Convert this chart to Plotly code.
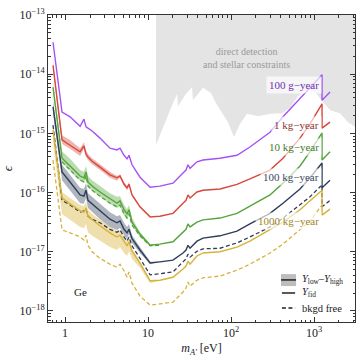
import plotly.graph_objects as go

FONT = "Liberation Serif"

# ── data ─────────────────────────────────────────────────────
# dark photon mass grid [eV], shared by all curves
mass = [0.717, 0.92, 1.15, 1.52, 1.69, 1.79, 1.89, 2.12, 2.64, 3.48, 4.23, 4.60,
        5.14, 5.59, 5.90, 6.42, 8.01, 10.6, 13.9, 20.0, 26.4, 28.7, 30.3, 32.1,
        38.9, 46.0, 73.7, 118, 169, 295, 423, 678, 895, 1250, 1250, 1560]

# log10(epsilon), Y_fid curves
log_eps_100g = [-13.46, -14.64, -14.72, -14.88, -14.76, -14.89, -14.91, -14.96, -15.08,
                -15.25, -15.28, -15.25, -15.37, -15.43, -15.37, -15.53, -15.74, -15.91,
                -15.89, -15.84, -15.67, -15.62, -15.53, -15.59, -15.48, -15.45, -15.42,
                -15.37, -15.23, -14.98, -14.72, -14.40, -14.23, -14.01, -14.44, -14.30]
log_eps_1kg = [-13.85, -15.11, -15.20, -15.31, -15.21, -15.35, -15.40, -15.47, -15.57,
               -15.70, -15.75, -15.72, -15.86, -15.92, -15.86, -16.04, -16.24, -16.41,
               -16.40, -16.35, -16.18, -16.13, -16.04, -16.09, -15.99, -15.96, -15.94,
               -15.86, -15.77, -15.62, -15.42, -15.08, -14.84, -14.50, -14.91, -14.81]
log_eps_10kg = [-14.22, -15.42, -15.55, -15.72, -15.75, -15.65, -15.82, -15.89, -15.99,
                -16.11, -16.18, -16.14, -16.29, -16.36, -16.29, -16.50, -16.70, -16.89,
                -16.87, -16.83, -16.67, -16.62, -16.53, -16.58, -16.50, -16.46, -16.43,
                -16.35, -16.23, -16.04, -15.84, -15.55, -15.31, -14.99, -15.45, -15.31]
log_eps_100kg = [-14.55, -15.65, -15.82, -16.04, -16.06, -15.96, -16.13, -16.19, -16.31,
                 -16.45, -16.51, -16.48, -16.62, -16.68, -16.62, -16.78, -16.97, -17.19,
                 -17.17, -17.14, -17.02, -16.97, -16.89, -16.94, -16.82, -16.77, -16.73,
                 -16.65, -16.53, -16.35, -16.18, -15.94, -15.75, -15.50, -15.92, -15.79]
log_eps_1000kg = [-14.94, -16.09, -16.19, -16.31, -16.33, -16.26, -16.40, -16.46, -16.56,
                  -16.68, -16.75, -16.72, -16.83, -16.90, -16.83, -16.99, -17.19, -17.49,
                  -17.48, -17.43, -17.29, -17.24, -17.16, -17.21, -17.07, -17.02, -17.00,
                  -16.92, -16.82, -16.63, -16.50, -16.29, -16.14, -15.96, -16.38, -16.28]

# background-free curves
log_free_10kg = [-15.48, -15.62, -15.79, -15.82, -15.72, -15.89, -15.96, -16.06, -16.18,
                 -16.24, -16.21, -16.36, -16.43, -16.36, -16.55, -16.73, -16.90, -16.89]
log_free_100kg = [-14.86, -16.13, -16.21, -16.33, -16.31, -16.28, -16.40, -16.45, -16.51,
                  -16.62, -16.67, -16.63, -16.75, -16.82, -16.75, -16.90, -17.11, -17.39,
                  -17.37, -17.34, -17.17, -17.12, -17.04, -17.09, -16.99, -16.95, -16.94,
                  -16.85, -16.75, -16.58, -16.43, -16.21, -16.07, -15.87, -16.24, -16.13]
log_free_1000kg = [-15.45, -16.63, -16.68, -16.75, -16.80, -16.72, -16.89, -17.00, -17.11,
                   -17.21, -17.26, -17.21, -17.32, -17.43, -17.34, -17.53, -17.75, -17.90,
                   -17.88, -17.85, -17.68, -17.61, -17.51, -17.58, -17.48, -17.44, -17.41,
                   -17.31, -17.21, -17.02, -16.87, -16.63, -16.48, -16.21]

# Y_low - Y_high bands (first part of the mass grid)
band_1kg_hi = [-13.78, -15.03, -15.11, -15.25, -15.15, -15.28, -15.35, -15.42, -15.52, -15.65,
               -15.72, -15.69, -15.82, -15.89, -15.82, -16.02, -16.23, -16.41, -16.40]
band_1kg_lo = [-13.90, -15.18, -15.26, -15.38, -15.26, -15.40, -15.45, -15.52, -15.62, -15.75,
               -15.80, -15.75, -15.89, -15.96, -15.89, -16.06, -16.26, -16.43, -16.40]
band_10kg_hi = [-14.13, -15.30, -15.43, -15.62, -15.65, -15.55, -15.72, -15.79, -15.89, -16.01,
                -16.07, -16.06, -16.21, -16.28, -16.21, -16.43, -16.67, -16.87, -16.87]
band_10kg_lo = [-14.28, -15.50, -15.64, -15.80, -15.84, -15.74, -15.91, -15.97, -16.07, -16.19,
                -16.26, -16.23, -16.38, -16.45, -16.38, -16.56, -16.75, -16.90, -16.87]
band_100kg_hi = [-14.45, -15.53, -15.70, -15.92, -15.94, -15.84, -16.01, -16.07, -16.19, -16.33,
                 -16.40, -16.38, -16.51, -16.58, -16.53, -16.72, -16.92, -17.17, -17.17]
band_100kg_lo = [-14.66, -15.79, -15.96, -16.18, -16.19, -16.09, -16.26, -16.33, -16.45, -16.58,
                 -16.63, -16.60, -16.72, -16.78, -16.70, -16.85, -17.02, -17.21, -17.17]
band_1000kg_hi = [-14.86, -15.99, -16.09, -16.21, -16.23, -16.16, -16.29, -16.36, -16.46, -16.58,
                  -16.65, -16.63, -16.75, -16.82, -16.77, -16.94, -17.16, -17.48, -17.48]
band_1000kg_lo = [-15.15, -16.36, -16.46, -16.58, -16.60, -16.53, -16.67, -16.73, -16.82, -16.92,
                  -16.97, -16.92, -17.02, -17.07, -16.99, -17.12, -17.27, -17.53, -17.49]

# direct detection + stellar constraints, lower edge
dd_mass = [12.49, 13.2, 15.2, 18.4, 22.4, 23.0, 28.7, 33.9, 34.8, 46.0, 48.6, 57.4, 66.0,
           77.9, 92.0, 108.7, 128.3, 155.9, 211.5, 295, 411.7, 513.8, 641.5, 823.7, 1057,
           1320, 1559, 2057, 2568, 3300]
dd_log_eps = [-15.20, -15.11, -14.89, -14.61, -14.33, -14.54, -14.33, -14.22, -14.44, -14.23,
              -14.25, -14.32, -14.49, -14.64, -14.81, -15.06, -14.84, -14.67, -14.71, -14.67,
              -14.66, -14.57, -14.37, -14.25, -14.32, -14.49, -14.61, -14.66, -14.81, -14.91]

COL = {
    "100g":   "#a552f5",
    "1kg":    "#d8473c",
    "10kg":   "#54a43c",
    "100kg":  "#2e3d58",
    "1000kg": "#d7b23a",
}
BAND = {
    "1kg":    "rgba(216,71,60,0.4)",
    "10kg":   "rgba(84,164,60,0.4)",
    "100kg":  "rgba(46,61,88,0.38)",
    "1000kg": "rgba(215,178,58,0.42)",
}


def eps(v):
    return [10 ** x for x in v]


fig = go.Figure()

# grey excluded region
fig.add_trace(go.Scatter(
    x=[dd_mass[0]] + dd_mass + [dd_mass[-1]],
    y=[1e-12] + eps(dd_log_eps) + [1e-12],
    mode="lines", fill="toself", fillcolor="#e4e4e4",
    line=dict(width=0), hoverinfo="skip",
))

# bands
for key, hi, lo in [("1kg", band_1kg_hi, band_1kg_lo),
                    ("10kg", band_10kg_hi, band_10kg_lo),
                    ("100kg", band_100kg_hi, band_100kg_lo),
                    ("1000kg", band_1000kg_hi, band_1000kg_lo)]:
    m = mass[:len(hi)]
    fig.add_trace(go.Scatter(
        x=m + m[::-1], y=eps(hi) + eps(lo)[::-1],
        mode="lines", fill="toself", fillcolor=BAND[key],
        line=dict(width=0), hoverinfo="skip",
    ))

# background-free (dashed)
for key, vals in [("10kg", log_free_10kg), ("100kg", log_free_100kg),
                  ("1000kg", log_free_1000kg)]:
    m = mass[1:1 + len(vals)] if key == "10kg" else mass[:len(vals)]
    fig.add_trace(go.Scatter(
        x=m, y=eps(vals), mode="lines",
        line=dict(color=COL[key], width=1.3, dash="4px,2.5px"),
    ))

# Y_fid (solid)
for key, vals in [("100g", log_eps_100g), ("1kg", log_eps_1kg), ("10kg", log_eps_10kg),
                  ("100kg", log_eps_100kg), ("1000kg", log_eps_1000kg)]:
    fig.add_trace(go.Scatter(
        x=mass, y=eps(vals), mode="lines",
        line=dict(color=COL[key], width=1.4),
    ))

# ── annotations ──────────────────────────────────────────────
ann = []
for text, y, c in [("100 g−year", 0.801, "#6e30b0"),
                   ("1 kg−year", 0.671, "#8c3530"),
                   ("10 kg−year", 0.570, "#467a2c"),
                   ("100 kg−year", 0.472, "#3a4860"),
                   ("1000 kg−year", 0.300, "#a08828")]:
    ann.append(dict(text=text, xref="paper", yref="paper", x=0.8925, y=y,
                    showarrow=False, font=dict(family=FONT, size=11, color=c),
                    bgcolor="rgba(255,255,255,0.65)", borderpad=2))

ann.append(dict(text="direct detection<br>and stellar constraints",
                xref="paper", yref="paper", x=0.648, y=0.904, showarrow=False,
                font=dict(family=FONT, size=10, color="#9a9a9a")))
ann.append(dict(text="Ge", xref="paper", yref="paper", x=0.078, y=0.072,
                showarrow=False, font=dict(family=FONT, size=11, color="#222")))

# legend (hand drawn)
legend_txt = [("<i>Y</i><sub>low</sub>–<i>Y</i><sub>high</sub>", 0.137),
              ("<i>Y</i><sub>fid</sub>", 0.0945),
              ("bkgd free", 0.0456)]
for text, y in legend_txt:
    ann.append(dict(text=text, xref="paper", yref="paper", x=0.821, y=y,
                    xanchor="left", yanchor="middle", showarrow=False,
                    font=dict(family=FONT, size=10.5, color="#222")))

shapes = [
    dict(type="rect", xref="paper", yref="paper", x0=0.759, x1=0.808, y0=0.117, y1=0.156,
         fillcolor="#bdbdbd", line=dict(width=0)),
    dict(type="line", xref="paper", yref="paper", x0=0.759, x1=0.808, y0=0.137, y1=0.137,
         line=dict(color="#222", width=1.5)),
    dict(type="line", xref="paper", yref="paper", x0=0.762, x1=0.805, y0=0.0945, y1=0.0945,
         line=dict(color="#222", width=1.5)),
    dict(type="line", xref="paper", yref="paper", x0=0.762, x1=0.805, y0=0.0456, y1=0.0456,
         line=dict(color="#222", width=1.5, dash="4px,2.5px")),
]

x_minor = [k * 10 ** p for p in range(-1, 4) for k in range(2, 10)]
y_minor = [k * 10.0 ** p for p in range(-19, -13) for k in range(2, 10)]

axis = dict(type="log", showline=True, linecolor="#333", linewidth=1, mirror="ticks",
            ticks="inside", ticklen=5, tickcolor="#333", showgrid=False, zeroline=False,
            tickfont=dict(family=FONT, size=12, color="#222"))

fig.update_layout(
    width=357, height=357,
    paper_bgcolor="white", plot_bgcolor="white",
    margin=dict(l=48, r=2, t=15, b=35),
    showlegend=False,
    annotations=ann, shapes=shapes,
    xaxis=dict(axis, range=[-0.205, 3.494],
               tickvals=[1, 10, 100, 1000], ticktext=["1", "10", "10<sup>2</sup>", "10<sup>3</sup>"],
               minor=dict(ticks="inside", ticklen=2.5, tickcolor="#333",
                          tickmode="array", tickvals=x_minor),
               title=dict(text="<i>m</i><sub><i>A'</i></sub> [eV]", standoff=4,
                          font=dict(family=FONT, size=12, color="#222"))),
    yaxis=dict(axis, range=[-18.186, -13.0],
               tickvals=[10.0 ** p for p in range(-18, -12)],
               ticktext=[f"10<sup>−{p}</sup>" for p in range(18, 12, -1)],
               minor=dict(ticks="inside", ticklen=2.5, tickcolor="#333",
                          tickmode="array", tickvals=y_minor),
               title=dict(text="<i>ϵ</i>", standoff=4,
                          font=dict(family=FONT, size=13, color="#222"))),
)

fig.write_html("out.html", config={"displayModeBar": False},
               post_script="document.body.style.margin='0';")
